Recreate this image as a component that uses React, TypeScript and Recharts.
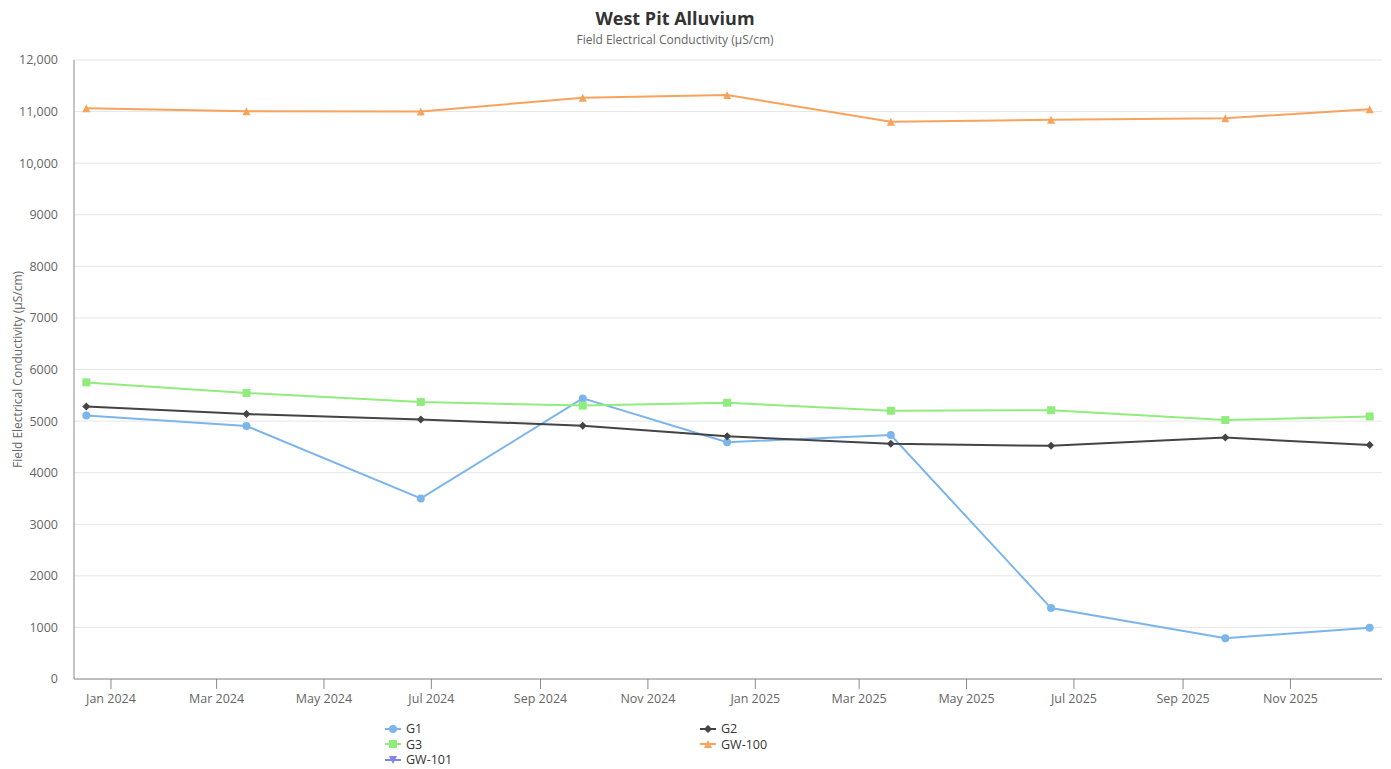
import { CartesianGrid, Line, LineChart, XAxis, YAxis } from "recharts";

const sampleDates = [
  "2023-12-18",
  "2024-03-18",
  "2024-06-25",
  "2024-09-25",
  "2024-12-16",
  "2025-03-19",
  "2025-06-18",
  "2025-09-25",
  "2025-12-16",
];
const g1 = [5110, 4905, 3500, 5440, 4590, 4730, 1375, 790, 995];
const g2 = [5285, 5135, 5030, 4910, 4705, 4560, 4520, 4680, 4535];
const g3 = [5750, 5545, 5370, 5300, 5355, 5200, 5210, 5020, 5090];
const gw100 = [11065, 11005, 11000, 11270, 11320, 10805, 10840, 10870, 11045];
const gw101: (number | null)[] = [];

const tickMonths = [
  "2024-01-01",
  "2024-03-01",
  "2024-05-01",
  "2024-07-01",
  "2024-09-01",
  "2024-11-01",
  "2025-01-01",
  "2025-03-01",
  "2025-05-01",
  "2025-07-01",
  "2025-09-01",
  "2025-11-01",
];
const yTicks = [0, 1000, 2000, 3000, 4000, 5000, 6000, 7000, 8000, 9000, 10000, 11000, 12000];
const xRange = ["2023-12-11", "2025-12-23"];
const monthNames = ["Jan", "Feb", "Mar", "Apr", "May", "Jun", "Jul", "Aug", "Sep", "Oct", "Nov", "Dec"];

const ts = (s: string) => new Date(s + "T00:00:00Z").getTime();

const data = sampleDates.map((d, i) => ({
  t: ts(d),
  G1: g1[i],
  G2: g2[i],
  G3: g3[i],
  GW100: gw100[i],
  GW101: gw101[i] ?? null,
}));

const series = [
  { key: "G1", name: "G1", color: "#7cb5ec", shape: "circle" },
  { key: "G2", name: "G2", color: "#434348", shape: "diamond" },
  { key: "G3", name: "G3", color: "#90ed7d", shape: "square" },
  { key: "GW100", name: "GW-100", color: "#f7a35c", shape: "triangle" },
  { key: "GW101", name: "GW-101", color: "#8085e9", shape: "triangle-down" },
];

const FONT = "'Open Sans', 'Noto Sans', sans-serif";

function Marker({ shape, color, cx, cy }: any) {
  const r = 4;
  if (shape === "circle") return <circle cx={cx} cy={cy} r={r} fill={color} />;
  if (shape === "square") return <rect x={cx - r} y={cy - r} width={r * 2} height={r * 2} fill={color} />;
  if (shape === "diamond")
    return <polygon points={`${cx},${cy - r} ${cx + r},${cy} ${cx},${cy + r} ${cx - r},${cy}`} fill={color} />;
  if (shape === "triangle")
    return <polygon points={`${cx},${cy - r} ${cx + r},${cy + r} ${cx - r},${cy + r}`} fill={color} />;
  return <polygon points={`${cx - r},${cy - r} ${cx + r},${cy - r} ${cx},${cy + r}`} fill={color} />;
}

const makeDot = (shape: string, color: string) => (props: any) => {
  const { cx, cy, index } = props;
  if (cx == null || cy == null || props.value == null) return <g key={`e${index}`} />;
  return (
    <g key={`d${index}`}>
      <Marker shape={shape} color={color} cx={cx} cy={cy} />
    </g>
  );
};

const fmtMonth = (v: number) => {
  const d = new Date(v);
  return `${monthNames[d.getUTCMonth()]} ${d.getUTCFullYear()}`;
};
const fmtY = (v: number) => (v >= 10000 ? v.toLocaleString("en-US") : String(v));

function YLabel({ viewBox }: any) {
  const x = viewBox.x + 3;
  const y = viewBox.y + viewBox.height / 2;
  return (
    <text
      x={x}
      y={y}
      transform={`rotate(-90 ${x} ${y})`}
      textAnchor="middle"
      dominantBaseline="central"
      fill="#666"
      fontSize={12}
      fontFamily={FONT}
    >
      Field Electrical Conductivity (µS/cm)
    </text>
  );
}

function LegendItem({ s }: any) {
  return (
    <div style={{ display: "flex", alignItems: "center", height: 15.5, lineHeight: "15px" }}>
      <svg width={16} height={12} style={{ marginRight: 5 }}>
        <line x1={0} y1={6} x2={16} y2={6} stroke={s.color} strokeWidth={2} />
        <Marker shape={s.shape} color={s.color} cx={8} cy={6} />
      </svg>
      <span>{s.name}</span>
    </div>
  );
}

export default function App() {
  const left = series.filter((_, i) => i % 2 === 0);
  const right = series.filter((_, i) => i % 2 === 1);
  return (
    <div
      style={{
        position: "absolute",
        left: 0,
        top: 0,
        width: 1391,
        height: 769,
        background: "#fff",
        fontFamily: FONT,
        overflow: "hidden",
      }}
    >
      <div
        style={{
          position: "absolute",
          left: 0,
          width: 1350,
          top: 6,
          textAlign: "center",
          fontSize: 18,
          fontWeight: 700,
          color: "#333",
        }}
      >
        West Pit Alluvium
      </div>
      <div
        style={{
          position: "absolute",
          left: 0,
          width: 1350,
          top: 31,
          textAlign: "center",
          fontSize: 12,
          color: "#666",
        }}
      >
        Field Electrical Conductivity (µS/cm)
      </div>

      <div style={{ position: "absolute", left: 0, top: 0 }}>
        <LineChart width={1391} height={769} data={data} margin={{ top: 60, right: 9, bottom: 60, left: 14 }}>
          <CartesianGrid vertical={false} stroke="#e6e6e6" />
          <XAxis
            dataKey="t"
            type="number"
            scale="time"
            height={30}
            domain={[ts(xRange[0]), ts(xRange[1])]}
            ticks={tickMonths.map(ts)}
            tickFormatter={fmtMonth}
            stroke="#8a8a8a"
            tickSize={10}
            tickMargin={5}
            tick={{ fill: "#666", fontSize: 12.5, fontFamily: FONT }}
            allowDataOverflow
          />
          <YAxis
            width={60}
            domain={[0, 12000]}
            ticks={yTicks}
            tickFormatter={fmtY}
            stroke="#8a8a8a"
            tickLine={false}
            tickSize={0}
            tickMargin={16}
            tick={{ fill: "#666", fontSize: 12.5, fontFamily: FONT }}
            label={<YLabel />}
          />
          {series.map((s) => (
            <Line
              key={s.key}
              dataKey={s.key}
              name={s.name}
              stroke={s.color}
              strokeWidth={2}
              type="linear"
              dot={makeDot(s.shape, s.color)}
              activeDot={false}
              isAnimationActive={false}
            />
          ))}
        </LineChart>
      </div>

      <div style={{ position: "absolute", left: 385, top: 721, fontSize: 12.5, color: "#333" }}>
        {left.map((s) => (
          <LegendItem key={s.key} s={s} />
        ))}
      </div>
      <div style={{ position: "absolute", left: 700, top: 721, fontSize: 12.5, color: "#333" }}>
        {right.map((s) => (
          <LegendItem key={s.key} s={s} />
        ))}
      </div>
    </div>
  );
}
